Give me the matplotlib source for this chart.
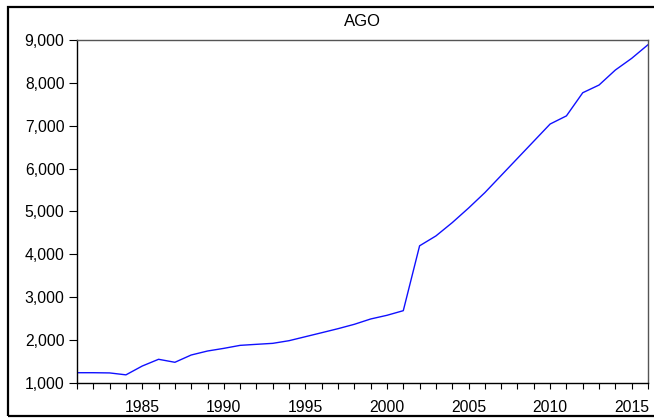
import matplotlib
matplotlib.use("Agg")
import matplotlib.pyplot as plt
from matplotlib.ticker import FuncFormatter, MultipleLocator
from matplotlib.patches import Rectangle

plt.rcParams['font.family'] = ['Liberation Sans', 'DejaVu Sans']

years = list(range(1981, 2017))
ago = [1240, 1240, 1235, 1190, 1396, 1553, 1483, 1653, 1746, 1808,
       1878, 1902, 1925, 1987, 2080, 2173, 2267, 2369, 2493, 2579,
       2687, 4200, 4430, 4740, 5080, 5440, 5840, 6240, 6640, 7040,
       7230, 7770, 7950, 8300, 8572, 8890]
title = "AGO"

fig = plt.figure(figsize=(6.54, 4.18), dpi=100)
ax = fig.add_axes([77/654, 1-383/418, (648-77)/654, (383-40)/418])

ax.plot(years, ago, color='#1010FF', lw=1.0)
ax.set_xlim(1981, 2016)
ax.set_ylim(1000, 9000)
ax.xaxis.set_major_locator(MultipleLocator(5))
ax.xaxis.set_minor_locator(MultipleLocator(1))
ax.yaxis.set_major_locator(MultipleLocator(1000))
ax.yaxis.set_major_formatter(FuncFormatter(lambda v, p: f"{int(v):,}"))
ax.tick_params(axis='x', which='both', direction='out', length=4, width=0.8,
               labelsize=11.3, pad=8, color='black')
ax.tick_params(axis='y', which='major', direction='out', length=6, width=0.8,
               labelsize=11.3, pad=3, color='black')
ax.spines['left'].set_color('black')
ax.spines['bottom'].set_color('black')
ax.spines['top'].set_color('#555555')
ax.spines['right'].set_color('#555555')
for s in ax.spines.values():
    s.set_linewidth(1.0)
ax.set_title(title, fontsize=12, pad=10)

border = Rectangle((8/654, 2/418), 1.2, (416-7)/418, transform=fig.transFigure,
                   fill=False, edgecolor='black', lw=1.6)
fig.patches.append(border)

fig.savefig("out.png", dpi=100)
